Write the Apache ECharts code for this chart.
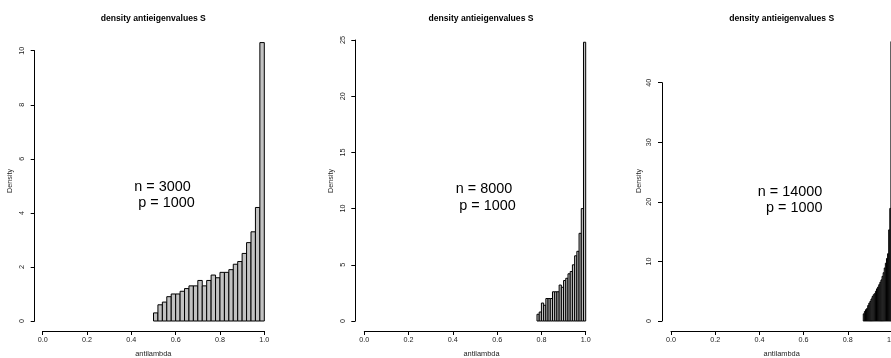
<!DOCTYPE html>
<html>
<head>
<meta charset="utf-8">
<script src="https://cdn.jsdelivr.net/npm/echarts@6/dist/echarts.min.js"></script>
<style>html,body{margin:0;padding:0;background:#fff}#c{width:891px;height:358px}</style>
</head>
<body>
<div id="c"></div>
<script>
// ---- data ----
const titleText = 'density antieigenvalues S';
const xLabel = 'antilambda';
const yLabel = 'Density';
const xTicks = [0, 0.2, 0.4, 0.6, 0.8, 1.0];

const breaks1 = [0.50,0.52,0.54,0.56,0.58,0.60,0.62,0.64,0.66,0.68,0.70,0.72,0.74,0.76,0.78,0.80,0.82,0.84,0.86,0.88,0.90,0.92,0.94,0.96,0.98,1.00];
const density1 = [0.3,0.6,0.7,0.9,1.0,1.0,1.1,1.2,1.3,1.3,1.5,1.3,1.5,1.7,1.6,1.8,1.8,1.9,2.1,2.2,2.5,2.9,3.3,4.2,10.3];

const breaks2 = [0.78,0.79,0.80,0.81,0.82,0.83,0.84,0.85,0.86,0.87,0.88,0.89,0.90,0.91,0.92,0.93,0.94,0.95,0.96,0.97,0.98,0.99,1.00];
const density2 = [0.6,0.8,1.6,1.4,2.0,2.0,2.0,2.6,2.6,2.6,3.2,3.0,3.6,3.8,4.2,4.4,5.0,5.8,6.2,7.8,10.0,24.8];

const breaks3 = [0.870,0.875,0.880,0.885,0.890,0.895,0.900,0.905,0.910,0.915,0.920,0.925,0.930,0.935,0.940,0.945,0.950,0.955,0.960,0.965,0.970,0.975,0.980,0.985,0.990,0.995,1.000];
const density3 = [1.2,1.6,1.9,2.1,2.6,3.0,3.3,3.7,4.1,4.4,4.6,5.0,5.4,5.7,6.1,6.5,6.9,7.5,8.1,8.9,9.7,10.5,11.3,15.3,18.9,46.9];

const yTicks1 = [0,2,4,6,8,10];
const yTicks2 = [0,5,10,15,20,25];
const yTicks3 = [0,10,20,30,40];

const annot1 = ['n = 3000', 'p = 1000'];
const annot2 = ['n = 8000', 'p = 1000'];
const annot3 = ['n = 14000', 'p = 1000'];

// ---- layout ----
const FONT = '"Liberation Sans", Arial, Helvetica, sans-serif';
const panels = [
  {breaks: breaks1, dens: density1, yTicks: yTicks1, annot: annot1,
   left: 42.7, width: 221.6, top: 50.7, yOff: 8, titleX: 153.3, axisNameX: 153.3, densX: 10,
   an: [[162.5, 187], [166.5, 203.5]]},
  {breaks: breaks2, dens: density2, yTicks: yTicks2, annot: annot2,
   left: 364.3, width: 221.4, top: 40, yOff: 9, titleX: 481, axisNameX: 481.5, densX: 330.7,
   an: [[484, 189], [487.5, 206.5]]},
  {breaks: breaks3, dens: density3, yTicks: yTicks3, annot: annot3,
   left: 671, width: 221, top: 82.7, yOff: 9, titleX: 781.7, axisNameX: 781.7, densX: 639,
   an: [[790, 192], [794.2, 208.5]]}
];
const ZERO_Y = 321;

function histData(br, d) {
  const out = [];
  for (let i = 0; i < d.length; i++) out.push([br[i], br[i + 1], d[i]]);
  return out;
}

const grid = [], xAxis = [], yAxis = [], series = [], graphic = [];
panels.forEach((p, i) => {
  grid.push({left: p.left, width: p.width, top: p.top, height: ZERO_Y - p.top,
    containLabel: false, outerBoundsMode: 'none'});
  xAxis.push({
    gridIndex: i, type: 'value', min: xTicks[0], max: xTicks[xTicks.length - 1], interval: 0.2,
    offset: 10,
    axisLine: {show: true, onZero: false, lineStyle: {color: '#000', width: 1}},
    axisTick: {show: true, length: 4, lineStyle: {color: '#000', width: 1}},
    axisLabel: {show: true, fontSize: 7.2, fontFamily: FONT, color: '#222', margin: 6,
      formatter: v => v.toFixed(1)},
    splitLine: {show: false}
  });
  const yt = p.yTicks;
  yAxis.push({
    gridIndex: i, type: 'value', min: yt[0], max: yt[yt.length - 1], interval: yt[1] - yt[0],
    offset: p.yOff,
    axisLine: {show: true, onZero: false, lineStyle: {color: '#000', width: 1}},
    axisTick: {show: true, length: 4, lineStyle: {color: '#000', width: 1}},
    axisLabel: {show: true, rotate: 90, fontSize: 7.2, fontFamily: FONT, color: '#222', margin: 9},
    splitLine: {show: false}
  });
  series.push({
    type: 'custom', xAxisIndex: i, yAxisIndex: i, clip: false,
    data: histData(p.breaks, p.dens),
    encode: {x: [0, 1], y: 2},
    renderItem: function (params, api) {
      const a = api.coord([api.value(0), 0]);
      const b = api.coord([api.value(1), api.value(2)]);
      return {
        type: 'rect',
        shape: {x: a[0], y: b[1], width: b[0] - a[0], height: a[1] - b[1]},
        style: {fill: '#c2c2c2', stroke: '#000', lineWidth: 1}
      };
    },
    silent: true
  });
  graphic.push({type: 'text', x: p.titleX, y: 18.3,
    style: {text: titleText, fontSize: 8.6, fontWeight: 'bold', fontFamily: FONT, fill: '#000',
      align: 'center', verticalAlign: 'middle'}});
  graphic.push({type: 'text', x: p.axisNameX, y: 354,
    style: {text: xLabel, fontSize: 7.4, fontFamily: FONT, fill: '#222', align: 'center', verticalAlign: 'middle'}});
  graphic.push({type: 'text', x: p.densX, y: 181, rotation: Math.PI / 2,
    style: {text: yLabel, fontSize: 7.2, fontFamily: FONT, fill: '#222', align: 'center', verticalAlign: 'middle'}});
  p.annot.forEach((t, k) => {
    graphic.push({type: 'text', x: p.an[k][0], y: p.an[k][1],
      style: {text: t, fontSize: 14.4, fontFamily: FONT, fill: '#000', align: 'center', verticalAlign: 'middle'}});
  });
});

const chart = echarts.init(document.getElementById('c'), null, {renderer: 'canvas', width: 891, height: 358});
chart.setOption({
  animation: false,
  backgroundColor: '#fff',
  grid, xAxis, yAxis, series, graphic
});
</script>
</body>
</html>
